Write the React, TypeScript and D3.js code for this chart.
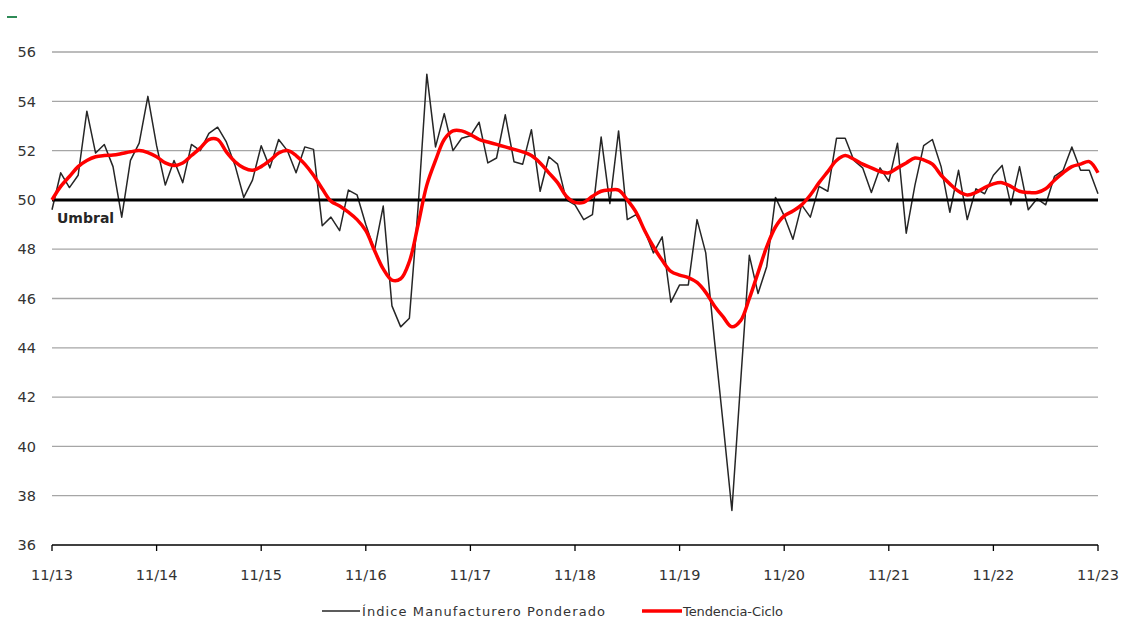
import React from "react";
import * as d3 from "d3";

const startYear = 2013;
const months = 121;

const indexValues: number[] = [
  49.6, 51.1, 50.5, 51.0, 53.6, 51.9, 52.25, 51.35, 49.3, 51.6, 52.3, 54.2,
  52.2, 50.6, 51.6, 50.7, 52.25, 52.0, 52.7, 52.95, 52.35, 51.4, 50.1, 50.8,
  52.2, 51.3, 52.45, 52.0, 51.1, 52.15, 52.05, 48.95, 49.3, 48.75, 50.4, 50.2,
  49.0, 47.95, 49.75, 45.7, 44.85, 45.2, 49.7, 55.1, 52.15, 53.5, 52.0, 52.5,
  52.6, 53.15, 51.5, 51.7, 53.45, 51.55, 51.45, 52.85, 50.35, 51.75, 51.45, 50.0,
  49.8, 49.2, 49.4, 52.55, 49.85, 52.8, 49.2, 49.4, 48.75, 47.85, 48.5, 45.85,
  46.55, 46.55, 49.2, 47.85, 44.3, 40.9, 37.4, 42.6, 47.75, 46.2, 47.3, 50.1,
  49.35, 48.4, 49.8, 49.3, 50.55, 50.35, 52.5, 52.5, 51.6, 51.3, 50.3, 51.3,
  50.75, 52.3, 48.65, 50.6, 52.2, 52.45, 51.35, 49.5, 51.2, 49.2, 50.45, 50.25,
  51.0, 51.4, 49.8, 51.35, 49.6, 50.05, 49.8, 50.95, 51.2, 52.15, 51.2, 51.2,
  50.25,
];

const trendValues: number[] = [
  50.0, 50.55, 50.95, 51.35, 51.6, 51.75, 51.8, 51.82, 51.88, 51.95, 52.0, 51.92,
  51.75, 51.5, 51.4, 51.5, 51.8, 52.1, 52.45, 52.45, 51.95, 51.55, 51.3, 51.2,
  51.35, 51.6, 51.9, 52.0, 51.8, 51.45, 51.0, 50.45, 49.95, 49.75, 49.5, 49.2,
  48.75, 47.95, 47.2, 46.75, 46.8, 47.5, 49.0, 50.6, 51.6, 52.45, 52.8, 52.8,
  52.65, 52.45, 52.35, 52.25, 52.15, 52.05, 51.95, 51.8, 51.5, 51.1, 50.7, 50.15,
  49.9, 49.9, 50.15, 50.35, 50.4, 50.4, 50.0, 49.5, 48.75, 48.1, 47.55, 47.1,
  46.95, 46.85, 46.65, 46.25, 45.7, 45.25, 44.85, 45.1, 46.0, 47.05, 48.1, 48.9,
  49.35, 49.55, 49.8, 50.2, 50.7, 51.15, 51.6, 51.8, 51.65, 51.45, 51.3, 51.15,
  51.1, 51.3, 51.5, 51.7, 51.62, 51.45, 51.0, 50.65, 50.35, 50.2, 50.3, 50.5,
  50.65, 50.7, 50.55, 50.35, 50.3, 50.3, 50.45, 50.8, 51.1, 51.35, 51.45, 51.55,
  51.1,
];

const xTickLabels: string[] = ["11/13", "11/14", "11/15", "11/16", "11/17", "11/18", "11/19", "11/20", "11/21", "11/22", "11/23"];
const yTicks: number[] = [36, 38, 40, 42, 44, 46, 48, 50, 52, 54, 56];
const threshold = 50;
const thresholdLabel = "Umbral";
const legendLabels: string[] = ["Índice Manufacturero Ponderado", "Tendencia-Ciclo"];

export default function App() {
  const W = 1121;
  const H = 620;
  const left = 52;
  const right = 1098;
  const top = 52;
  const bottom = 545;

  const x = d3.scaleLinear().domain([0, months - 1]).range([left, right]);
  const y = d3.scaleLinear().domain([36, 56]).range([bottom, top]);

  const idxLine = d3
    .line<number>()
    .x((_, i) => x(i))
    .y((d) => y(d))
    .curve(d3.curveLinear);
  const trendLine = d3
    .line<number>()
    .x((_, i) => x(i))
    .y((d) => y(d))
    .curve(d3.curveCatmullRom.alpha(0.5));

  const font = "'DejaVu Sans', sans-serif";
  const textColor = "#333333";

  return (
    <svg
      width={W}
      height={H}
      style={{ position: "absolute", left: 0, top: 0, background: "#fff" }}
    >
      <rect x={7} y={16} width={10} height={2} fill="#2e8b57" />
      {yTicks.map((t) => (
        <g key={t}>
          {t !== 36 && t !== threshold && (
            <line x1={left} x2={right} y1={y(t)} y2={y(t)} stroke="#a6a6a6" strokeWidth={1.3} />
          )}
          <text
            x={36}
            y={y(t)}
            dy="0.36em"
            textAnchor="end"
            fontFamily={font}
            fontSize={14.5}
            fill={textColor}
          >
            {t}
          </text>
        </g>
      ))}
      <line x1={left} x2={right} y1={bottom} y2={bottom} stroke="#000" strokeWidth={1.5} />
      {xTickLabels.map((lab, i) => {
        const xi = x(i * 12);
        return (
          <g key={lab}>
            <line x1={xi} x2={xi} y1={bottom} y2={bottom + 6} stroke="#000" strokeWidth={1.3} />
            <text
              x={xi}
              y={580}
              textAnchor="middle"
              fontFamily={font}
              fontSize={14.5}
              fill={textColor}
            >
              {lab}
            </text>
          </g>
        );
      })}
      <path d={idxLine(indexValues) || ""} fill="none" stroke="#262626" strokeWidth={1.5} strokeLinejoin="round" />
      <line x1={left} x2={right} y1={y(threshold)} y2={y(threshold)} stroke="#000" strokeWidth={3} />
      <path d={trendLine(trendValues) || ""} fill="none" stroke="#ff0000" strokeWidth={3.5} strokeLinejoin="round" />
      <text x={57} y={223} fontFamily={font} fontSize={14} fontWeight="bold" fill="#262626">
        {thresholdLabel}
      </text>
      <g>
        <line x1={322} x2={360} y1={611} y2={611} stroke="#262626" strokeWidth={1.5} />
        <text x={362} y={611} dy="0.35em" fontFamily={font} fontSize={13} fill={textColor} textLength={243} lengthAdjust="spacing">
          {legendLabels[0]}
        </text>
        <line x1={642} x2={682} y1={611} y2={611} stroke="#ff0000" strokeWidth={3.5} />
        <text x={683} y={611} dy="0.35em" fontFamily={font} fontSize={13} fill={textColor} textLength={100} lengthAdjust="spacing">
          {legendLabels[1]}
        </text>
      </g>
    </svg>
  );
}
